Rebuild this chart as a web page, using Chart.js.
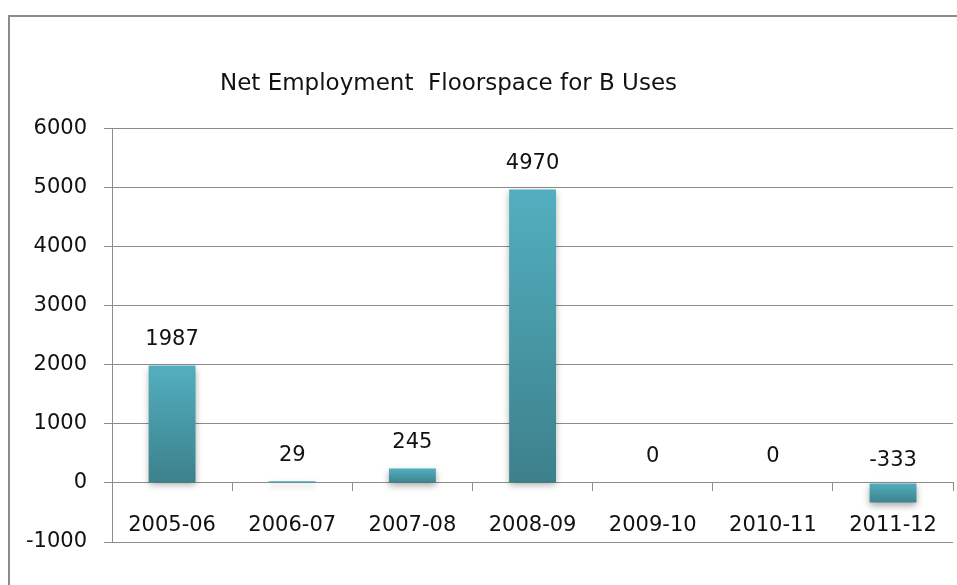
<!DOCTYPE html>
<html>
<head>
<meta charset="utf-8">
<script src="https://cdn.jsdelivr.net/npm/chart.js@4"></script>
<style>
  body { margin: 0; width: 957px; height: 585px; overflow: hidden; background: #fff; position: relative; }
  #frame { position: absolute; left: 8px; top: 15px; width: 1000px; height: 620px; border: 2px solid #8c8c8c; }
  #chart { position: absolute; left: -61px; top: 0; }
</style>
</head>
<body>
<div id="frame"></div>
<canvas id="chart" width="1020" height="585"></canvas>
<script>
const years = ["2005-06", "2006-07", "2007-08", "2008-09", "2009-10", "2010-11", "2011-12"];
const floorspace = [1987, 29, 245, 4970, 0, 0, -333];
const chartTitle = "Net Employment  Floorspace for B Uses";

const fontName = "'DejaVu Sans', sans-serif";
const gridGrey = "#8c8c8c";

// each bar gets its own top-to-bottom gradient
const barFill = (c) => {
  const y = c.chart.scales.y;
  if (!y || c.raw === undefined) return "#4a9fae";
  const a = y.getPixelForValue(c.raw);
  const b = y.getPixelForValue(0);
  if (!Number.isFinite(a) || !Number.isFinite(b)) return "#4a9fae";
  const g = c.chart.ctx.createLinearGradient(0, Math.min(a, b), 0, Math.max(a, b) + 1);
  g.addColorStop(0, "#52afbf");
  g.addColorStop(1, "#3c808b");
  return g;
};

// drop shadow under bars + value labels
const barExtras = {
  id: "barExtras",
  beforeDatasetsDraw(chart) {
    const ctx = chart.ctx;
    ctx.save();
    ctx.shadowColor = "rgba(0,0,0,0.35)";
    ctx.shadowBlur = 7;
    ctx.shadowOffsetY = 3;
  },
  afterDatasetsDraw(chart) {
    const ctx = chart.ctx;
    ctx.restore();
    const yScale = chart.scales.y;
    ctx.save();
    ctx.font = "21px " + fontName;
    ctx.fillStyle = "#111";
    ctx.textAlign = "center";
    ctx.textBaseline = "middle";
    chart.getDatasetMeta(0).data.forEach((bar, i) => {
      const v = floorspace[i];
      const y = yScale.getPixelForValue(Math.max(v, 0)) - (v < 0 ? 22 : 26);
      ctx.fillText(String(v), bar.x, y);
    });
    ctx.restore();
  }
};

new Chart(document.getElementById("chart"), {
  type: "bar",
  data: {
    labels: years,
    datasets: [{
      data: floorspace,
      backgroundColor: barFill,
      barPercentage: 0.39,
      categoryPercentage: 1
    }]
  },
  options: {
    responsive: false,
    animation: false,
    layout: { padding: { left: 0, right: 1, top: 0, bottom: 43 } },
    plugins: {
      legend: { display: false },
      tooltip: { enabled: false },
      title: {
        display: true,
        text: chartTitle,
        color: "#111",
        font: { family: fontName, size: 23, weight: "normal" },
        padding: { top: 70, bottom: 31 }
      }
    },
    scales: {
      x: {
        position: { y: 0 },
        grid: { offset: true, drawOnChartArea: false, tickLength: 8, color: gridGrey },
        border: { color: gridGrey },
        ticks: { color: "#111", font: { family: fontName, size: 21 }, padding: 22 }
      },
      y: {
        min: -1000,
        max: 6000,
        afterFit(scale) { scale.width = 173; },
        grid: { color: gridGrey, tickLength: 8 },
        border: { color: gridGrey },
        ticks: {
          stepSize: 1000,
          color: "#111",
          font: { family: fontName, size: 21 },
          padding: 17,
          callback: (v) => String(v)
        }
      }
    }
  },
  plugins: [barExtras]
});
</script>
</body>
</html>
